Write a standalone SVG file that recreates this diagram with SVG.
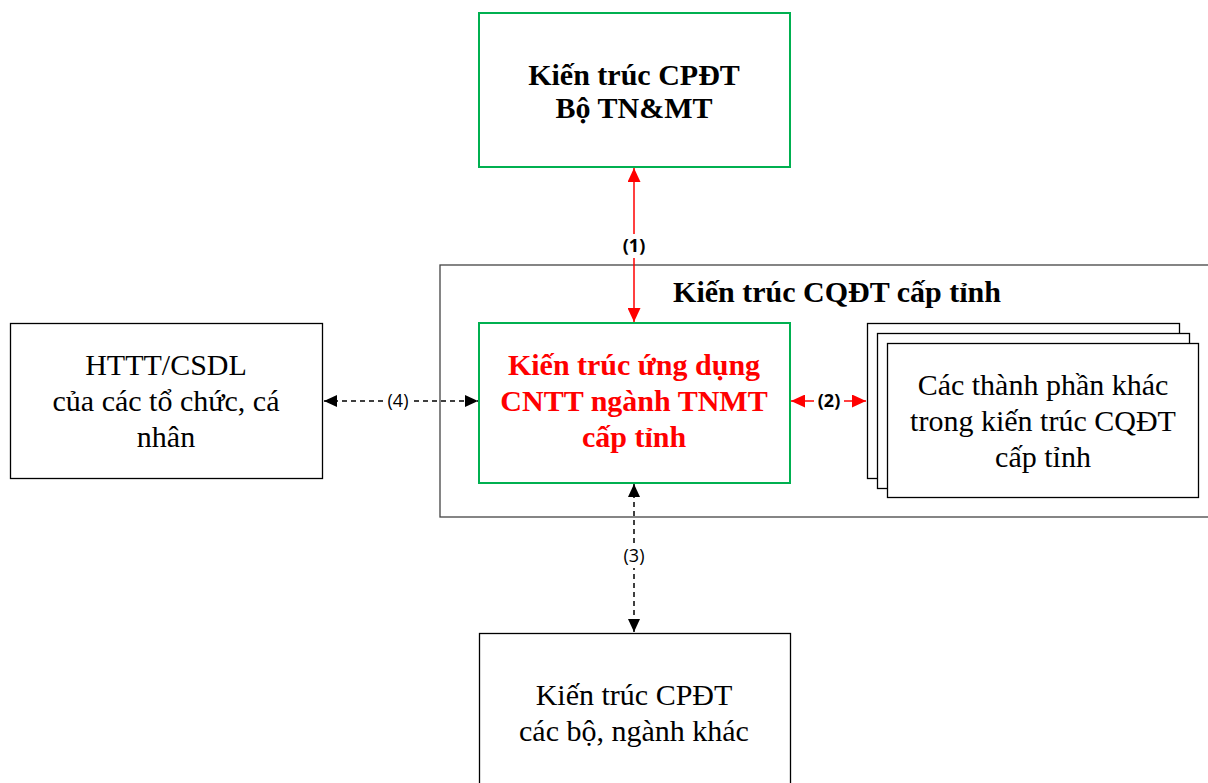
<svg xmlns="http://www.w3.org/2000/svg" width="1208" height="783" viewBox="0 0 1208 783">
<defs>
<style>
.box{fill:#fff;stroke:#000;stroke-width:1.3}
.gbox{fill:#fff;stroke:#00B050;stroke-width:2}
.cont{fill:#fff;stroke:#444;stroke-width:1.3}
.t{font-family:"Liberation Serif",serif;font-size:30px;text-anchor:middle;fill:#000}
.b{font-weight:bold}
.red{fill:#ff0000}
.lbl{font-family:"Open Sans","Liberation Sans",sans-serif;font-size:18px;text-anchor:middle;fill:#000}
.rl{stroke:#ff0000;stroke-width:1.5;fill:none}
.dl{stroke:#000;stroke-width:1.5;fill:none;stroke-dasharray:5 4}
</style>
<marker id="ar" viewBox="0 0 10 10" refX="10" refY="5" markerWidth="14" markerHeight="13" markerUnits="userSpaceOnUse" orient="auto-start-reverse" preserveAspectRatio="none"><path d="M0,0 L10,5 L0,10 z" fill="#ff0000"/></marker>
<marker id="ak" viewBox="0 0 10 10" refX="10" refY="5" markerWidth="13" markerHeight="12" markerUnits="userSpaceOnUse" orient="auto-start-reverse" preserveAspectRatio="none"><path d="M0,0 L10,5 L0,10 z" fill="#000"/></marker>
</defs>
<rect width="1208" height="783" fill="#fff"/>

<g id="container">
<rect class="cont" x="440" y="265" width="775" height="252"/>
<text class="t b" x="837" y="302">Kiến trúc CQĐT cấp tỉnh</text>
</g>

<g id="top">
<rect class="gbox" x="479" y="13" width="311" height="154"/>
<text class="t b" x="634" y="85">Kiến trúc CPĐT</text>
<text class="t b" x="634" y="118">Bộ TN&amp;MT</text>
</g>

<g id="center">
<rect class="gbox" x="479" y="323" width="311" height="160"/>
<text class="t b red" x="634" y="375">Kiến trúc ứng dụng</text>
<text class="t b red" x="634" y="411">CNTT ngành TNMT</text>
<text class="t b red" x="634" y="447">cấp tỉnh</text>
</g>

<g id="others">
<rect class="box" x="867.5" y="323.5" width="312" height="155"/>
<rect class="box" x="877.5" y="333.5" width="312" height="155"/>
<rect class="box" x="887.5" y="343.5" width="311" height="154"/>
<text class="t" x="1043" y="395">Các thành phần khác</text>
<text class="t" x="1043" y="431">trong kiến trúc CQĐT</text>
<text class="t" x="1043" y="467">cấp tỉnh</text>
</g>

<g id="left">
<rect class="box" x="10.5" y="323.5" width="312" height="155"/>
<text class="t" x="166" y="375">HTTT/CSDL</text>
<text class="t" x="166" y="411">của các tổ chức, cá</text>
<text class="t" x="166" y="447">nhân</text>
</g>

<g id="bottom">
<rect class="box" x="479.5" y="633.5" width="311" height="160"/>
<text class="t" x="634" y="705">Kiến trúc CPĐT</text>
<text class="t" x="634" y="741">các bộ, ngành khác</text>
</g>

<g id="connectors">
<line class="rl" x1="634" y1="168" x2="634" y2="322" marker-start="url(#ar)" marker-end="url(#ar)"/>
<rect x="620" y="234" width="28" height="24" fill="#fff"/>
<text class="lbl b" x="634" y="252">(1)</text>

<line class="rl" x1="791" y1="401" x2="866" y2="401" marker-start="url(#ar)" marker-end="url(#ar)"/>
<rect x="814" y="389" width="30" height="24" fill="#fff"/>
<text class="lbl b" x="829" y="407">(2)</text>

<line class="dl" x1="324" y1="401" x2="478" y2="401" marker-start="url(#ak)" marker-end="url(#ak)"/>
<rect x="384" y="389" width="28" height="24" fill="#fff"/>
<text class="lbl" x="398" y="407">(4)</text>

<line class="dl" x1="634" y1="484" x2="634" y2="632" marker-start="url(#ak)" marker-end="url(#ak)"/>
<rect x="620" y="544" width="28" height="24" fill="#fff"/>
<text class="lbl" x="634" y="562">(3)</text>
</g>
</svg>
